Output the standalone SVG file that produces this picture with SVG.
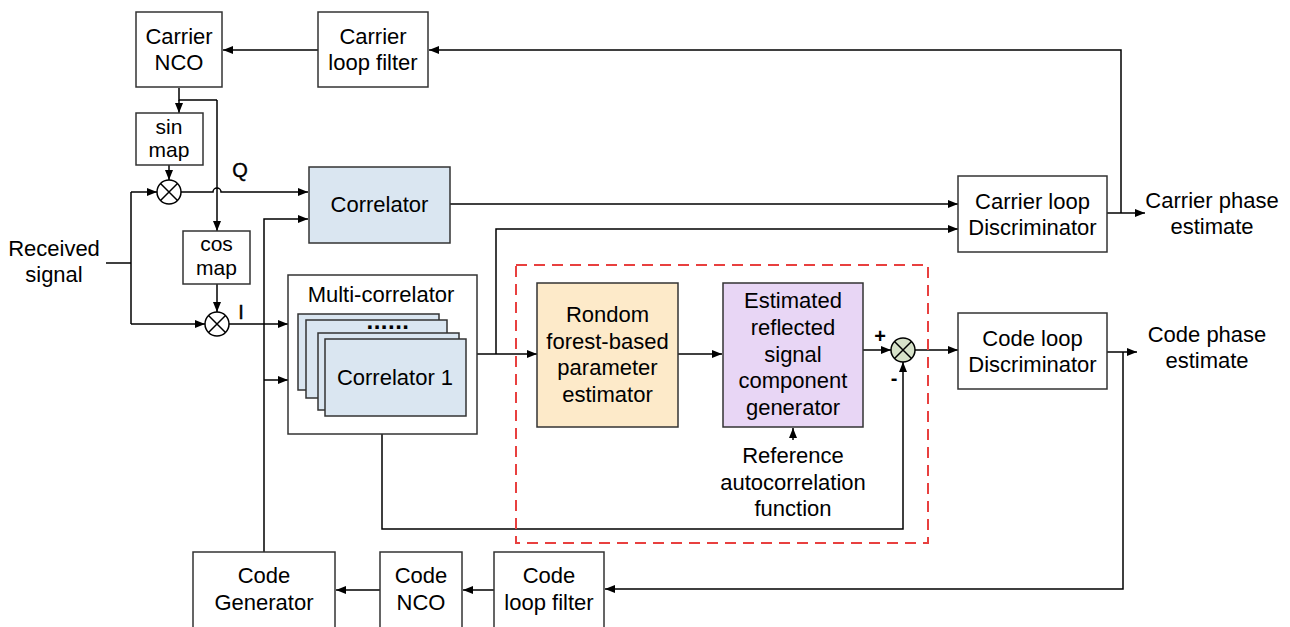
<svg xmlns="http://www.w3.org/2000/svg" width="1290" height="627" viewBox="0 0 1290 627">
<defs>
<marker id="arr" markerUnits="userSpaceOnUse" markerWidth="10" markerHeight="8" refX="10" refY="4" orient="auto">
<path d="M0,0 L10,4 L0,8 z" fill="#000"/>
</marker>
<style>
text{font-family:"Liberation Sans",Arial,sans-serif;font-size:22px;fill:#000;text-anchor:middle}
.sm{font-size:21px}
.lbl{font-size:20px;stroke:#000;stroke-width:0.4}
.pm{font-size:20px;font-weight:bold}
.dots{font-size:24px;font-weight:bold;letter-spacing:0.5px}
.box{fill:#fff;stroke:#333;stroke-width:1.5}
.blue{fill:#dae6f1;stroke:#333;stroke-width:1.5}
.rf{fill:#fdeac9;stroke:#333;stroke-width:1.5}
.est{fill:#e8d6f5;stroke:#333;stroke-width:1.5}
.mix{fill:#fff;stroke:#000;stroke-width:1.5}
.sum{fill:#d7e2c9;stroke:#000;stroke-width:1.5}
.w{fill:none;stroke:#000;stroke-width:1.5}
.a{fill:none;stroke:#000;stroke-width:1.5;marker-end:url(#arr)}
.dash{fill:none;stroke:#e8403f;stroke-width:2;stroke-dasharray:11,7}
</style>
</defs>

<g id="connectors">
<path class="a" d="M318,50 L223,50"/>
<path class="a" d="M1121,213 L1121,50 L429,50"/>
<path class="w" d="M179,88 L179,100 L217,100"/>
<path class="a" d="M179,100 L179,113"/>
<path class="a" d="M217,100 L217,231"/>
<path class="a" d="M169,165 L169,180"/>
<path class="w" d="M106,263 L131,263"/>
<path class="w" d="M131,192 L131,324"/>
<path class="a" d="M131,192 L157,192"/>
<path class="a" d="M131,324 L205,324"/>
<path class="a" d="M181,192 L213,192 A4,4 0 0 1 221,192 L308,192"/>
<path class="a" d="M217,284 L217,312"/>
<path class="a" d="M229,324 L288,324"/>
<path class="a" d="M264,552 L264,219 L308,219"/>
<path class="a" d="M264,380 L288,380"/>
<path class="a" d="M450,204 L958,204"/>
<path class="a" d="M477,354 L537,354"/>
<path class="a" d="M496,354 L496,229 L958,229"/>
<path class="a" d="M678,354 L722,354"/>
<path class="a" d="M863,350 L891,350"/>
<path class="a" d="M915,350 L958,350"/>
<path class="a" d="M1107,352 L1137,352"/>
<path class="a" d="M1123,352 L1123,589 L605,589"/>
<path class="a" d="M1107,213 L1145,213"/>
<path class="a" d="M494,590 L463,590"/>
<path class="a" d="M380,590 L336,590"/>
<path class="a" d="M382,434 L382,529 L903,529 L903,362"/>
<path class="a" d="M793,440 L793,428"/>
</g>

<g id="carrier-nco">
<rect class="box" x="136" y="12" width="86" height="75"/>
<text x="179" y="44">Carrier</text>
<text x="179" y="70">NCO</text>
</g>
<g id="carrier-loop-filter">
<rect class="box" x="318" y="12" width="110" height="75"/>
<text x="373" y="44">Carrier</text>
<text x="373" y="70">loop filter</text>
</g>
<g id="sin-map">
<rect class="box" x="136" y="113" width="67" height="52"/>
<text class="sm" x="169" y="134">sin</text>
<text class="sm" x="169" y="157">map</text>
</g>
<g id="mixer-q">
<circle class="mix" cx="169" cy="192" r="12"/>
<path class="w" d="M160.5,183.5 L177.5,200.5 M177.5,183.5 L160.5,200.5"/>
</g>
<g id="cos-map">
<rect class="box" x="183" y="231" width="67" height="53"/>
<text class="sm" x="216.5" y="251">cos</text>
<text class="sm" x="216.5" y="275">map</text>
</g>
<g id="mixer-i">
<circle class="mix" cx="217" cy="324" r="12"/>
<path class="w" d="M208.5,315.5 L225.5,332.5 M225.5,315.5 L208.5,332.5"/>
</g>
<g id="labels-qi">
<text class="lbl" x="240" y="177">Q</text>
<text class="lbl" x="241" y="319">I</text>
</g>
<g id="received-signal">
<text x="54" y="256">Received</text>
<text x="54" y="282">signal</text>
</g>
<g id="correlator">
<rect class="blue" x="309" y="167" width="141" height="76"/>
<text x="379.5" y="212">Correlator</text>
</g>
<g id="multi-correlator">
<rect class="box" x="288" y="275" width="189" height="159"/>
<text x="381" y="302">Multi-correlator</text>
<rect class="blue" x="298" y="314" width="141" height="76"/>
<rect class="blue" x="306" y="320" width="141" height="78"/>
<rect class="blue" x="318" y="333" width="141" height="77"/>
<rect class="blue" x="325" y="339" width="141" height="77"/>
<text class="dots" x="388" y="329">......</text>
<text x="395" y="385">Correlator 1</text>
</g>
<g id="carrier-loop-discriminator">
<rect class="box" x="958" y="176" width="149" height="76"/>
<text x="1032.5" y="209">Carrier loop</text>
<text x="1032.5" y="235">Discriminator</text>
</g>
<g id="carrier-phase-estimate">
<text x="1212" y="208">Carrier phase</text>
<text x="1212" y="234">estimate</text>
</g>
<g id="ml-block">
<rect class="dash" x="516" y="265" width="412" height="278"/>
</g>
<g id="random-forest">
<rect class="rf" x="537" y="283" width="141" height="144"/>
<text x="607.5" y="322">Rondom</text>
<text x="607.5" y="348.5">forest-based</text>
<text x="607.5" y="375">parameter</text>
<text x="607.5" y="402">estimator</text>
</g>
<g id="estimated-generator">
<rect class="est" x="723" y="283" width="140" height="144"/>
<text x="793" y="308">Estimated</text>
<text x="793" y="335">reflected</text>
<text x="793" y="362">signal</text>
<text x="793" y="388">component</text>
<text x="793" y="415">generator</text>
</g>
<g id="reference-acf">
<text x="793" y="463">Reference</text>
<text x="793" y="490">autocorrelation</text>
<text x="793" y="516">function</text>
</g>
<g id="sum-junction">
<circle class="sum" cx="903" cy="350" r="12"/>
<path class="w" d="M894.5,341.5 L911.5,358.5 M911.5,341.5 L894.5,358.5"/>
<text class="pm" x="880" y="343">+</text>
<text class="pm" x="894" y="385">-</text>
</g>
<g id="code-loop-discriminator">
<rect class="box" x="958" y="313" width="149" height="76"/>
<text x="1032.5" y="346">Code loop</text>
<text x="1032.5" y="372">Discriminator</text>
</g>
<g id="code-phase-estimate">
<text x="1207" y="342">Code phase</text>
<text x="1207" y="368">estimate</text>
</g>
<g id="code-generator">
<rect class="box" x="193" y="552" width="142" height="90"/>
<text x="264" y="583">Code</text>
<text x="264" y="610">Generator</text>
</g>
<g id="code-nco">
<rect class="box" x="380" y="552" width="82" height="90"/>
<text x="421" y="583">Code</text>
<text x="421" y="610">NCO</text>
</g>
<g id="code-loop-filter">
<rect class="box" x="494" y="552" width="110" height="90"/>
<text x="549" y="583">Code</text>
<text x="549" y="610">loop filter</text>
</g>
</svg>
